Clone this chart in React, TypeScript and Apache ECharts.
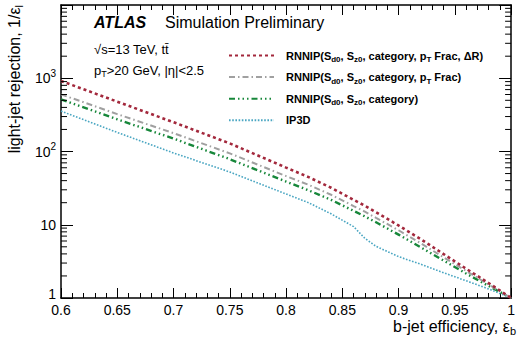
import React, { useEffect, useRef } from "react";
import * as echarts from "echarts";

const EFF = [0.6, 0.65, 0.7, 0.75, 0.8, 0.82, 0.84, 0.86, 0.87, 0.88, 0.9, 0.92, 0.94, 0.96, 0.98, 1.0];
const RNN_DR = [918, 479, 251, 129, 60.3, 44.7, 32.0, 21.9, 18.2, 14.8, 9.77, 6.31, 3.98, 2.51, 1.6, 1];
const RNN_PT = [603, 324, 178, 94.4, 46.2, 35.1, 25.7, 18.0, 15.1, 12.4, 8.41, 5.56, 3.59, 2.34, 1.53, 1];
const RNN_CAT = [513, 275, 150, 78.5, 38.9, 29.5, 21.9, 15.5, 13.0, 10.8, 7.33, 4.9, 3.24, 2.16, 1.46, 1];
const IP3D = [356, 182, 95.5, 52.5, 26.3, 20.0, 14.1, 9.44, 6.53, 5.07, 3.67, 2.88, 2.21, 1.72, 1.33, 1];

const SERIES_NAMES = ["RNNIP_dR", "RNNIP_pT", "RNNIP_cat", "IP3D"];
const LEGEND_LABELS = [
  "{b|RNNIP(S}{s|d0}{b|, S}{s|z0}{b|, category, p}{s|T}{b| Frac, ΔR)}",
  "{b|RNNIP(S}{s|d0}{b|, S}{s|z0}{b|, category, p}{s|T}{b| Frac)}",
  "{b|RNNIP(S}{s|d0}{b|, S}{s|z0}{b|, category)}",
  "{b|IP3D}",
];
const X_TICKS = { min: 0.6, max: 1.0, interval: 0.05 };
const Y_RANGE = { min: 1, max: 10000 };
const DECADES = [1, 10, 100, 1000];
const MINOR_MULTS = [2, 3, 4, 5, 6, 7, 8, 9];

const FONT = "'Liberation Sans', Arial, Helvetica, sans-serif";

export default function App() {
  const ref = useRef<HTMLDivElement>(null);
  useEffect(() => {
    if (!ref.current) return;
    const chart = echarts.init(ref.current, undefined, { renderer: "svg" });
    const minorTicks: number[][] = [];
    DECADES.forEach((d) => MINOR_MULTS.forEach((m) => minorTicks.push([X_TICKS.min, d * m])));
    const seriesData = [RNN_DR, RNN_PT, RNN_CAT, IP3D].map((arr) => arr.map((v, i) => [EFF[i], v]));
    const styles = [
      { color: "#a3283c", width: 2.6, type: [3, 3] },
      { color: "#a0a0a0", width: 2, type: [6, 3, 1.5, 3] },
      { color: "#17873a", width: 2.4, type: [6, 3, 1.5, 3, 1.5, 3, 1.5, 3] },
      { color: "#4aa6c2", width: 1.6, type: [1.6, 1.6] },
    ];
    const axisLine = { show: true, onZero: false, lineStyle: { color: "#000", width: 1.5 } };
    const option: any = {
      animation: false,
      backgroundColor: "#fff",
      grid: { left: 61, right: 2, top: 5, bottom: 43, containLabel: false },
      xAxis: [
        {
          type: "value",
          min: X_TICKS.min,
          max: X_TICKS.max,
          interval: X_TICKS.interval,
          axisLine,
          axisTick: { show: true, inside: true, length: 10, lineStyle: { color: "#000", width: 1 } },
          minorTick: { show: true, splitNumber: 5, length: 5, lineStyle: { color: "#000", width: 1 } },
          splitLine: { show: false },
          axisLabel: {
            color: "#000",
            fontSize: 14,
            fontFamily: FONT,
            margin: 5,
            formatter: (v: number) => String(+v.toFixed(2)),
          },
        },
        {
          type: "value",
          position: "top",
          min: X_TICKS.min,
          max: X_TICKS.max,
          interval: X_TICKS.interval,
          axisLine,
          axisTick: { show: true, inside: true, length: 10, lineStyle: { color: "#000", width: 1 } },
          minorTick: { show: true, splitNumber: 5, length: 5, lineStyle: { color: "#000", width: 1 } },
          splitLine: { show: false },
          axisLabel: { show: false },
        },
      ],
      yAxis: [
        {
          type: "log",
          logBase: 10,
          min: Y_RANGE.min,
          max: Y_RANGE.max,
          axisLine,
          axisTick: { show: true, inside: true, length: 12, lineStyle: { color: "#000", width: 1 } },
          splitLine: { show: false },
          axisLabel: {
            color: "#000",
            fontSize: 14,
            fontFamily: FONT,
            margin: 5,
            formatter: (v: number) => {
              if (Math.abs(v - 1) < 1e-6) return "{o|1}";
              if (Math.abs(v - 10) < 1e-4) return "{n|10}";
              if (Math.abs(v - 100) < 1e-3) return "{n|10}{p|2}";
              if (Math.abs(v - 1000) < 1e-2) return "{n|10}{p|3}";
              return "";
            },
            rich: {
              o: { fontSize: 14, fontFamily: FONT, color: "#000", lineHeight: 16, padding: [0, 0, 9, 0] },
              n: { fontSize: 14, fontFamily: FONT, color: "#000", lineHeight: 20 },
              p: { fontSize: 10, fontFamily: FONT, color: "#000", lineHeight: 10, verticalAlign: "top" },
            },
          },
        },
        {
          type: "log",
          logBase: 10,
          position: "right",
          min: Y_RANGE.min,
          max: Y_RANGE.max,
          axisLine,
          axisTick: { show: true, inside: true, length: 12, lineStyle: { color: "#000", width: 1 } },
          splitLine: { show: false },
          axisLabel: { show: false },
        },
      ],
      legend: {
        orient: "vertical",
        left: 228,
        top: 50,
        padding: 0,
        itemWidth: 45,
        itemHeight: 10,
        itemGap: 8.1,
        itemStyle: { opacity: 0 },
        data: SERIES_NAMES,
        formatter: (name: string) => LEGEND_LABELS[SERIES_NAMES.indexOf(name)],
        textStyle: {
          color: "#000",
          fontFamily: FONT,
          padding: [0, 0, 0, 7],
          rich: {
            b: { fontSize: 11, fontWeight: "bold", fontFamily: FONT, color: "#000", lineHeight: 16 },
            s: { fontSize: 8, fontWeight: "bold", fontFamily: FONT, color: "#000", lineHeight: 8, verticalAlign: "bottom" },
          },
        },
      },
      series: [
        ...SERIES_NAMES.map((name, i) => ({
          name,
          type: "line",
          xAxisIndex: 0,
          yAxisIndex: 0,
          data: seriesData[i],
          symbol: "none",
          smooth: false,
          z: 5 - i,
          lineStyle: { color: styles[i].color, width: styles[i].width, type: styles[i].type },
          itemStyle: { color: styles[i].color },
        })),
        {
          type: "custom",
          xAxisIndex: 0,
          yAxisIndex: 0,
          silent: true,
          clip: false,
          z: 10,
          data: minorTicks,
          renderItem: (params: any, api: any) => {
            const v = api.value(1);
            const pL = api.coord([X_TICKS.min, v]);
            const pR = api.coord([X_TICKS.max, v]);
            return {
              type: "group",
              children: [
                { type: "line", shape: { x1: pL[0], y1: pL[1], x2: pL[0] + 6, y2: pL[1] }, style: { stroke: "#000", lineWidth: 1 } },
                { type: "line", shape: { x1: pR[0], y1: pR[1], x2: pR[0] - 6, y2: pR[1] }, style: { stroke: "#000", lineWidth: 1 } },
              ],
            };
          },
        },
      ],
      graphic: [
        {
          type: "text",
          left: 94,
          top: 14,
          style: { text: "ATLAS", fontSize: 16, fontWeight: "bold", fontStyle: "italic", fontFamily: FONT, fill: "#000" },
        },
        {
          type: "text",
          left: 165,
          top: 14,
          style: { text: "Simulation Preliminary", fontSize: 16, fontFamily: FONT, fill: "#000" },
        },
        {
          type: "text",
          left: 94,
          top: 43,
          style: { text: "√s=13 TeV, tt\u0304", fontSize: 13, fontFamily: FONT, fill: "#000" },
        },
        {
          type: "text",
          left: 94,
          top: 64,
          style: {
            text: "{a|p}{s|T}{a|>20 GeV, |η|<2.5}",
            fill: "#000",
            rich: {
              a: { fontSize: 13, fontFamily: FONT, fill: "#000", lineHeight: 16 },
              s: { fontSize: 9, fontFamily: FONT, fill: "#000", lineHeight: 9, verticalAlign: "bottom" },
            },
          },
        },
        {
          type: "text",
          x: 516,
          y: 326,
          style: {
            text: "{a|b-jet efficiency, ε}{s|b}",
            align: "right",
            verticalAlign: "middle",
            fill: "#000",
            rich: {
              a: { fontSize: 16, fontFamily: FONT, fill: "#000", lineHeight: 20 },
              s: { fontSize: 11, fontFamily: FONT, fill: "#000", lineHeight: 11, verticalAlign: "bottom" },
            },
          },
        },
        {
          type: "text",
          x: 14,
          y: 5,
          rotation: Math.PI / 2,
          style: {
            text: "{a|light-jet rejection, 1/ε}{s|l}",
            align: "right",
            verticalAlign: "middle",
            fill: "#000",
            rich: {
              a: { fontSize: 16, fontFamily: FONT, fill: "#000", lineHeight: 20 },
              s: { fontSize: 11, fontFamily: FONT, fill: "#000", lineHeight: 11, verticalAlign: "bottom" },
            },
          },
        },
      ],
    };
    chart.setOption(option);
    return () => chart.dispose();
  }, []);
  return <div ref={ref} style={{ position: "fixed", left: 0, top: 0, width: 518, height: 341, background: "#fff" }} />;
}
